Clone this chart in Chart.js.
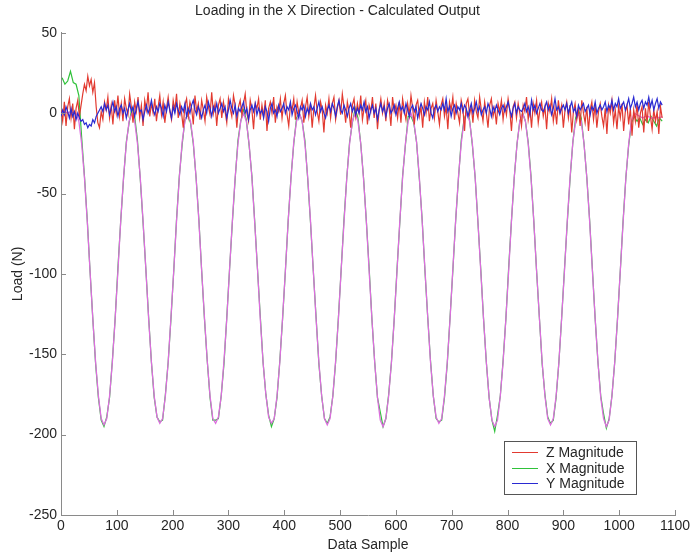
<!DOCTYPE html>
<html>
<head>
<meta charset="utf-8">
<title>Loading in the X Direction - Calculated Output</title>
<script src="https://cdn.jsdelivr.net/npm/chart.js@4.4.1/dist/chart.umd.min.js"></script>
<style>
  html, body { margin: 0; padding: 0; background: #ffffff; }
  canvas { display: block; }
</style>
</head>
<body>
<canvas id="chart" width="694" height="558"></canvas>
<script>
// Axis ticks
const sampleTicks = [0, 100, 200, 300, 400, 500, 600, 700, 800, 900, 1000, 1100];
const loadTicks = [50, 0, -50, -100, -150, -200, -250];

// Series labels
const seriesNames = ['Z Magnitude', 'X Magnitude', 'Y Magnitude'];

// Z and Y loads, one value every 3 samples starting at sample 0
const zyStart = 0;
const zyStep = 3;
const zMagnitude = [
  2, -5, 7, -8, 4, 9, -3, 6, -10, 3, 8, -2,
  5, 12, 18, 14, 23, 17, 21, 13, 19, 4, -6, -9,
  1, -4, 7, 2, 10, -3, 5, -7, 8, 0, 11, -2,
  6, -5, 9, 3, -1, 12, 4, -6, 7, 1, 10, -3,
  5, -8, 8, 2, 13, -2, 6, 0, 9, -5, 4, 11,
  -1, 7, -6, 3, 10, 1, -4, 8, 2, 12, -3, 6,
  0, -9, 5, 9, -2, 7, 3, -7, 11, 1, 6, -4,
  8, 2, -5, 10, 4, -1, 13, 0, 6, -8, 5, 9,
  -3, 7, 1, -6, 9, 3, -2, 11, 5, -9, 4, 8,
  -1, 6, 12, 0, -5, 8, 2, -10, 6, 3, 9, -4,
  5, -2, 8, -11, 3, 7, 0, 10, -6, 4, 1, 9,
  -3, 6, 11, -1, -8, 5, 2, 9, -4, 7, 0, 3,
  8, -6, 4, 10, -2, 6, -9, 3, 11, 1, -5, 7,
  2, -12, 5, 0, 9, -3, 6, 10, -4, 3, 8, -1,
  12, 4, -6, 7, 1, -9, 5, 9, -2, 6, 0, 11,
  -4, 3, 8, -7, 5, 1, 10, -3, 6, -10, 2, 9,
  0, 6, -5, 8, 3, -8, 10, 1, 5, -3, 7, -6,
  9, 2, -4, 6, -1, 11, 3, -7, 5, 8, -2, 4,
  -9, 7, 0, 10, -5, 3, 6, -3, 8, 1, -7, 5,
  9, -2, 4, -10, 7, 2, 10, -4, 6, 0, -6, 8,
  3, -11, 6, 9, -1, 4, -6, 8, 1, -3, 10, 2,
  -5, 7, 0, -9, 5, 9, -2, 3, -7, 6, 1, 8,
  -4, 5, -1, 9, 2, -11, 4, 7, -3, 6, 0, -8,
  5, 1, 10, -4, 3, -9, 6, 0, 8, -6, 2, 7,
  -2, 4, -10, 6, 1, 9, -5, 3, -7, 8, 0, 5,
  -9, 2, 7, -3, 5, -12, 1, 6, -4, 3, -8, 8,
  0, -6, 4, -11, 2, 7, -4, 5, -9, 1, 6, -2,
  -8, 3, -13, 5, 0, 8, -6, 2, -10, 4, -3, 6,
  -11, 1, 5, -7, 3, -14, 2, -5, 6, -9, 0, 4,
  -12, 3, -6, 7, -2, -10, 2, -5, 1, -13, 4, -3
];
const yMagnitude = [
  -2, 2, -1, 4, 1, -3, 3, -2, 1, -4, 0, -3,
  -5, -4, -7, -6, -9, -7, -8, -4, -6, -2, 0, 2,
  4, 1, 6, 2, 5, -1, 3, 7, 1, 4, -2, 3,
  5, 0, 3, -3, 2, 6, 1, 4, -2, 3, 7, 1,
  2, -4, 1, 5, 0, 3, 8, 2, -1, 4, 1, 6,
  3, -2, 5, 1, 7, 2, -3, 4, 0, 6, 2, -1,
  4, 1, 6, -2, 3, 0, 5, 8, 2, -1, 4, 1,
  -3, 2, 5, 0, 7, 3, -2, 4, 1, 6, 0, 3,
  6, 1, 4, -3, 2, 8, 3, 0, 5, -2, 3, 1,
  4, 7, 0, 3, -4, 2, 5, 1, 6, -1, 3, 0,
  2, -3, 4, 1, -5, 3, 6, 0, 2, -2, 5, 1,
  3, 6, 0, 4, 2, 7, -1, 3, 5, 1, -3, 4,
  2, 5, -2, 3, 0, 6, 2, 4, -1, 3, 7, 1,
  4, 0, -3, 2, 5, 1, 6, 3, -2, 4, 8, 2,
  0, 5, 2, -2, 3, 6, 1, 4, -1, 3, 0, 5,
  2, 7, 1, 4, -3, 2, 5, 0, 3, -4, 2, 6,
  1, 4, -2, 3, 6, 0, 2, 5, -1, 3, 7, 2,
  4, 0, 6, 2, -2, 3, 5, 1, 4, -3, 2, 6,
  3, -1, 4, 2, 7, 0, -3, 3, 5, 1, 4, 2,
  6, 2, 9, 1, 4, -2, 3, 5, 0, 4, 2, 6,
  1, 5, 3, -2, 2, 6, 0, 3, 7, 1, 4, -1,
  2, 4, 0, 6, 3, -2, 4, 1, 5, 2, -1, 3,
  5, 1, 4, 7, 2, -2, 3, 6, 0, 4, 2, 1,
  3, 6, 1, 4, -1, 8, 2, 5, 0, 3, 6, 2,
  1, 4, 7, 2, 5, -1, 3, 9, 2, 4, 0, 3,
  5, 2, 6, 0, 4, 7, 1, 3, -2, 5, 2, 4,
  6, 1, 3, 5, -1, 4, 2, 7, 0, 3, 5, 2,
  4, 7, 1, 5, 3, 8, 2, 6, 4, 9, 3, 5,
  7, 2, 5, 9, 3, 6, 10, 4, 7, 2, 6, 8,
  3, 7, 5, 10, 4, 8, 2, 6, 9, 3, 7, 5
];

// X loads (measured and calculated), one value every 5 samples starting at sample 2
const xStart = 2;
const xStep = 5;
const xMagnitude = [
  22, 18, 20, 26, 19,
  18, 11, -15, -39, -66, -98, -128, -156, -177, -191, -195, -189, -177, -154, -128, -96, -67, -41, -18, -6,
  3, -2, -17, -41, -68, -97, -127, -155, -177, -189, -192, -191, -175, -155, -128, -98, -66, -39, -20, -4,
  -1, -6, -19, -40, -66, -98, -128, -154, -177, -191, -191, -190, -176, -156, -127, -97, -68, -41, -17, -5,
  2, -4, -20, -39, -67, -97, -126, -155, -175, -188, -195, -190, -177, -154, -128, -98, -67, -40, -19, -3,
  0, -5, -17, -41, -68, -98, -127, -156, -176, -190, -193, -189, -176, -155, -127, -97, -66, -40, -18, -6,
  3, -3, -19, -40, -67, -96, -128, -155, -177, -186, -195, -190, -175, -155, -128, -97, -68, -39, -20, -2,
  -2, -6, -18, -41, -66, -98, -127, -154, -176, -190, -192, -191, -177, -156, -127, -98, -67, -41, -17, -4,
  1, -4, -20, -40, -68, -97, -128, -155, -177, -191, -198, -188, -176, -154, -128, -96, -67, -40, -19, -5,
  0, -5, -18, -39, -67, -98, -127, -156, -175, -189, -193, -191, -177, -155, -127, -97, -68, -41, -18, -3,
  2, -3, -19, -40, -66, -97, -128, -155, -176, -187, -196, -190, -176, -155, -128, -98, -67, -40, -20, -6,
  -2, -5, -3, -7, -4, -6, -2, -5, -8, -3, -5
];
const xCalculated = [
  1, 1, 0, 1, 0,
  0, -5, -19, -40, -67, -98, -128, -155, -176, -190, -194, -190, -176, -155, -128, -98, -67, -40, -19, -5,
  0, -5, -19, -40, -67, -97, -128, -155, -176, -189, -193, -190, -176, -155, -127, -98, -67, -40, -18, -5,
  0, -5, -18, -40, -67, -98, -127, -154, -176, -190, -193, -189, -176, -154, -128, -97, -67, -40, -19, -5,
  0, -5, -19, -40, -68, -97, -128, -155, -175, -189, -193, -190, -176, -155, -127, -98, -67, -41, -18, -5,
  0, -5, -19, -40, -67, -98, -128, -155, -176, -190, -194, -190, -176, -154, -128, -97, -68, -40, -19, -5,
  0, -5, -19, -41, -67, -98, -128, -155, -177, -191, -195, -190, -176, -155, -128, -98, -67, -40, -19, -5,
  0, -5, -18, -40, -67, -97, -127, -155, -176, -189, -193, -190, -176, -155, -128, -97, -67, -40, -19, -5,
  0, -5, -19, -40, -68, -98, -128, -155, -177, -191, -195, -191, -176, -155, -128, -98, -67, -40, -19, -5,
  0, -5, -19, -40, -67, -98, -127, -155, -176, -190, -194, -190, -176, -155, -127, -98, -67, -40, -18, -5,
  0, -5, -19, -40, -67, -98, -128, -155, -177, -190, -195, -191, -176, -155, -128, -98, -68, -40, -19, -5,
  0, -1, -2, -3, -2, -2, -3, -3, -2, -3, -2
];

const fontFamily = "'Liberation Sans', Arial, Helvetica, sans-serif";
const textColor = '#262626';
const axisColor = '#8a8a8a';

const toPoints = (values, start, step) => values.map((v, i) => ({ x: start + i * step, y: v }));

// Tick marks pointing into the plot area
const insideTicks = {
  id: 'insideTicks',
  afterDatasetsDraw(chart) {
    const { ctx, chartArea, scales } = chart;
    const len = 5;
    ctx.save();
    ctx.strokeStyle = axisColor;
    ctx.lineWidth = 1;
    ctx.beginPath();
    scales.x.ticks.forEach(t => {
      const px = Math.round(scales.x.getPixelForValue(t.value)) + 0.5;
      ctx.moveTo(px, chartArea.bottom);
      ctx.lineTo(px, chartArea.bottom - len);
    });
    scales.y.ticks.forEach(t => {
      const py = Math.round(scales.y.getPixelForValue(t.value)) + 0.5;
      ctx.moveTo(chartArea.left, py);
      ctx.lineTo(chartArea.left + len, py);
    });
    ctx.stroke();
    ctx.restore();
  }
};

// Boxed legend in the lower right corner of the plot
const boxLegend = {
  id: 'boxLegend',
  afterDraw(chart) {
    const { ctx, chartArea } = chart;
    const items = chart.data.datasets.filter(d => d.inLegend);
    const w = 132, h = 53, rowH = 15.5;
    const right = chartArea.right - 39;
    const bottom = chartArea.bottom - 21;
    const left = Math.round(right - w);
    const top = Math.round(bottom - h);
    ctx.save();
    ctx.fillStyle = '#ffffff';
    ctx.fillRect(left, top, w, h);
    ctx.strokeStyle = '#555555';
    ctx.lineWidth = 1;
    ctx.strokeRect(left + 0.5, top + 0.5, w, h);
    ctx.font = '14px ' + fontFamily;
    ctx.textBaseline = 'middle';
    items.forEach((d, i) => {
      const cy = Math.round(top + 11 + i * rowH) + 0.5;
      ctx.strokeStyle = d.borderColor;
      ctx.beginPath();
      ctx.moveTo(left + 8, cy);
      ctx.lineTo(left + 34, cy);
      ctx.stroke();
      ctx.fillStyle = textColor;
      ctx.fillText(d.label, left + 42, cy + 0.5);
    });
    ctx.restore();
  }
};

const lineStyle = { pointRadius: 0, tension: 0, fill: false };

new Chart(document.getElementById('chart'), {
  type: 'line',
  data: {
    datasets: [
      Object.assign({ label: seriesNames[0], data: toPoints(zMagnitude, zyStart, zyStep), borderColor: '#e23a30', borderWidth: 1.2, order: 1, inLegend: true }, lineStyle),
      Object.assign({ label: seriesNames[1], data: toPoints(xMagnitude, xStart, xStep), borderColor: '#2fc23a', borderWidth: 1.2, order: 3, inLegend: true }, lineStyle),
      Object.assign({ label: seriesNames[2], data: toPoints(yMagnitude, zyStart, zyStep), borderColor: '#2a2ad2', borderWidth: 1.2, order: 0, inLegend: true }, lineStyle),
      Object.assign({ label: 'X Calculated', data: toPoints(xCalculated, xStart, xStep), borderColor: '#dc6ede', borderWidth: 1.3, order: 2, inLegend: false }, lineStyle)
    ]
  },
  options: {
    responsive: false,
    animation: false,
    devicePixelRatio: 1,
    events: [],
    layout: { padding: { top: 0, right: 19, bottom: 0, left: 0 } },
    plugins: {
      legend: { display: false },
      tooltip: { enabled: false },
      title: {
        display: true,
        text: 'Loading in the X Direction - Calculated Output',
        color: textColor,
        font: { family: fontFamily, size: 14, weight: 'normal' },
        padding: { top: 3, bottom: 13 }
      }
    },
    scales: {
      x: {
        type: 'linear',
        min: sampleTicks[0],
        max: sampleTicks[sampleTicks.length - 1],
        afterBuildTicks: s => { s.ticks = sampleTicks.map(v => ({ value: v })); },
        afterFit: s => { s.height = 43; },
        grid: { display: false, drawTicks: false },
        border: { display: true, color: axisColor, width: 1 },
        ticks: { color: textColor, font: { family: fontFamily, size: 14 }, padding: 3, maxRotation: 0, autoSkip: false, callback: v => String(v) },
        title: { display: true, text: 'Data Sample', color: textColor, font: { family: fontFamily, size: 14 }, padding: { top: 0, bottom: 4 } }
      },
      y: {
        type: 'linear',
        min: loadTicks[loadTicks.length - 1],
        max: loadTicks[0],
        afterBuildTicks: s => { s.ticks = loadTicks.slice().reverse().map(v => ({ value: v })); },
        afterFit: s => { s.width = 61; },
        grid: { display: false, drawTicks: false },
        border: { display: true, color: axisColor, width: 1 },
        ticks: { color: textColor, font: { family: fontFamily, size: 14 }, padding: 4, autoSkip: false, callback: v => String(v) },
        title: { display: true, text: 'Load (N)', color: textColor, font: { family: fontFamily, size: 14 }, padding: { top: 10, bottom: 0 } }
      }
    }
  },
  plugins: [insideTicks, boxLegend]
});
</script>
</body>
</html>
